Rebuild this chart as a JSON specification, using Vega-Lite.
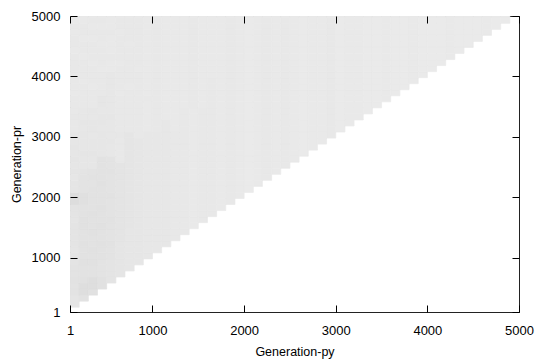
{
"$schema": "https://vega.github.io/schema/vega-lite/v6.json",
"width": 449, "height": 296,
"autosize": {"type": "none"},
"padding": {"left": 70, "top": 16, "right": 17, "bottom": 52},
"background": "white",
"config": {"view": {"stroke": "#222222", "strokeWidth": 1}, "font": "Liberation Sans"},
"data": {"values": [
{"c":1,"r":2,"v":229},{"c":1,"r":3,"v":229},{"c":1,"r":4,"v":227},{"c":1,"r":5,"v":227},{"c":1,"r":6,"v":226},{"c":1,"r":7,"v":227},{"c":1,"r":8,"v":227},{"c":1,"r":9,"v":228},{"c":1,"r":10,"v":228},{"c":1,"r":11,"v":229},{"c":1,"r":12,"v":228},{"c":1,"r":13,"v":228},{"c":1,"r":14,"v":228},{"c":1,"r":15,"v":228},{"c":1,"r":16,"v":229},{"c":1,"r":17,"v":228},{"c":1,"r":18,"v":227},{"c":1,"r":19,"v":221},{"c":1,"r":20,"v":221},{"c":1,"r":21,"v":229},{"c":1,"r":22,"v":229},{"c":1,"r":23,"v":230},{"c":1,"r":24,"v":229},{"c":1,"r":25,"v":230},{"c":1,"r":26,"v":229},{"c":1,"r":27,"v":230},{"c":1,"r":28,"v":229},{"c":1,"r":29,"v":230},{"c":1,"r":30,"v":230},{"c":1,"r":31,"v":232},{"c":1,"r":32,"v":232},{"c":1,"r":33,"v":231},{"c":1,"r":34,"v":232},{"c":1,"r":35,"v":232},{"c":1,"r":36,"v":232},{"c":1,"r":37,"v":233},{"c":1,"r":38,"v":232},{"c":1,"r":39,"v":232},{"c":1,"r":40,"v":233},{"c":1,"r":41,"v":232},{"c":1,"r":42,"v":232},{"c":1,"r":43,"v":232},{"c":1,"r":44,"v":233},{"c":1,"r":45,"v":232},{"c":1,"r":46,"v":232},{"c":1,"r":47,"v":233},{"c":1,"r":48,"v":232},{"c":1,"r":49,"v":233},{"c":1,"r":50,"v":233},
{"c":2,"r":3,"v":226},{"c":2,"r":4,"v":222},{"c":2,"r":5,"v":222},{"c":2,"r":6,"v":225},{"c":2,"r":7,"v":226},{"c":2,"r":8,"v":226},{"c":2,"r":9,"v":225},{"c":2,"r":10,"v":226},{"c":2,"r":11,"v":226},{"c":2,"r":12,"v":225},{"c":2,"r":13,"v":226},{"c":2,"r":14,"v":226},{"c":2,"r":15,"v":225},{"c":2,"r":16,"v":225},{"c":2,"r":17,"v":226},{"c":2,"r":18,"v":226},{"c":2,"r":19,"v":224},{"c":2,"r":20,"v":224},{"c":2,"r":21,"v":227},{"c":2,"r":22,"v":227},{"c":2,"r":23,"v":227},{"c":2,"r":24,"v":228},{"c":2,"r":25,"v":230},{"c":2,"r":26,"v":230},{"c":2,"r":27,"v":229},{"c":2,"r":28,"v":230},{"c":2,"r":29,"v":230},{"c":2,"r":30,"v":230},{"c":2,"r":31,"v":231},{"c":2,"r":32,"v":230},{"c":2,"r":33,"v":231},{"c":2,"r":34,"v":231},{"c":2,"r":35,"v":232},{"c":2,"r":36,"v":232},{"c":2,"r":37,"v":232},{"c":2,"r":38,"v":232},{"c":2,"r":39,"v":233},{"c":2,"r":40,"v":232},{"c":2,"r":41,"v":232},{"c":2,"r":42,"v":232},{"c":2,"r":43,"v":233},{"c":2,"r":44,"v":232},{"c":2,"r":45,"v":232},{"c":2,"r":46,"v":233},{"c":2,"r":47,"v":232},{"c":2,"r":48,"v":232},{"c":2,"r":49,"v":233},{"c":2,"r":50,"v":233},
{"c":3,"r":4,"v":225},{"c":3,"r":5,"v":222},{"c":3,"r":6,"v":222},{"c":3,"r":7,"v":226},{"c":3,"r":8,"v":226},{"c":3,"r":9,"v":225},{"c":3,"r":10,"v":226},{"c":3,"r":11,"v":225},{"c":3,"r":12,"v":226},{"c":3,"r":13,"v":226},{"c":3,"r":14,"v":225},{"c":3,"r":15,"v":226},{"c":3,"r":16,"v":226},{"c":3,"r":17,"v":225},{"c":3,"r":18,"v":226},{"c":3,"r":19,"v":226},{"c":3,"r":20,"v":226},{"c":3,"r":21,"v":226},{"c":3,"r":22,"v":227},{"c":3,"r":23,"v":226},{"c":3,"r":24,"v":227},{"c":3,"r":25,"v":230},{"c":3,"r":26,"v":230},{"c":3,"r":27,"v":229},{"c":3,"r":28,"v":230},{"c":3,"r":29,"v":230},{"c":3,"r":30,"v":231},{"c":3,"r":31,"v":230},{"c":3,"r":32,"v":230},{"c":3,"r":33,"v":231},{"c":3,"r":34,"v":230},{"c":3,"r":35,"v":232},{"c":3,"r":36,"v":232},{"c":3,"r":37,"v":232},{"c":3,"r":38,"v":233},{"c":3,"r":39,"v":232},{"c":3,"r":40,"v":232},{"c":3,"r":41,"v":232},{"c":3,"r":42,"v":233},{"c":3,"r":43,"v":232},{"c":3,"r":44,"v":232},{"c":3,"r":45,"v":232},{"c":3,"r":46,"v":233},{"c":3,"r":47,"v":232},{"c":3,"r":48,"v":233},{"c":3,"r":49,"v":232},{"c":3,"r":50,"v":233},
{"c":4,"r":5,"v":225},{"c":4,"r":6,"v":225},{"c":4,"r":7,"v":227},{"c":4,"r":8,"v":227},{"c":4,"r":9,"v":227},{"c":4,"r":10,"v":226},{"c":4,"r":11,"v":226},{"c":4,"r":12,"v":225},{"c":4,"r":13,"v":226},{"c":4,"r":14,"v":226},{"c":4,"r":15,"v":225},{"c":4,"r":16,"v":226},{"c":4,"r":17,"v":226},{"c":4,"r":18,"v":225},{"c":4,"r":19,"v":226},{"c":4,"r":20,"v":226},{"c":4,"r":21,"v":226},{"c":4,"r":22,"v":225},{"c":4,"r":23,"v":226},{"c":4,"r":24,"v":226},{"c":4,"r":25,"v":226},{"c":4,"r":26,"v":226},{"c":4,"r":27,"v":230},{"c":4,"r":28,"v":230},{"c":4,"r":29,"v":230},{"c":4,"r":30,"v":230},{"c":4,"r":31,"v":231},{"c":4,"r":32,"v":230},{"c":4,"r":33,"v":230},{"c":4,"r":34,"v":231},{"c":4,"r":35,"v":230},{"c":4,"r":36,"v":230},{"c":4,"r":37,"v":232},{"c":4,"r":38,"v":232},{"c":4,"r":39,"v":232},{"c":4,"r":40,"v":232},{"c":4,"r":41,"v":233},{"c":4,"r":42,"v":232},{"c":4,"r":43,"v":232},{"c":4,"r":44,"v":232},{"c":4,"r":45,"v":233},{"c":4,"r":46,"v":232},{"c":4,"r":47,"v":232},{"c":4,"r":48,"v":233},{"c":4,"r":49,"v":232},{"c":4,"r":50,"v":232},
{"c":5,"r":6,"v":228},{"c":5,"r":7,"v":228},{"c":5,"r":8,"v":228},{"c":5,"r":9,"v":228},{"c":5,"r":10,"v":227},{"c":5,"r":11,"v":227},{"c":5,"r":12,"v":226},{"c":5,"r":13,"v":227},{"c":5,"r":14,"v":227},{"c":5,"r":15,"v":227},{"c":5,"r":16,"v":226},{"c":5,"r":17,"v":227},{"c":5,"r":18,"v":227},{"c":5,"r":19,"v":227},{"c":5,"r":20,"v":226},{"c":5,"r":21,"v":227},{"c":5,"r":22,"v":227},{"c":5,"r":23,"v":227},{"c":5,"r":24,"v":226},{"c":5,"r":25,"v":227},{"c":5,"r":26,"v":227},{"c":5,"r":27,"v":231},{"c":5,"r":28,"v":231},{"c":5,"r":29,"v":230},{"c":5,"r":30,"v":231},{"c":5,"r":31,"v":231},{"c":5,"r":32,"v":231},{"c":5,"r":33,"v":230},{"c":5,"r":34,"v":231},{"c":5,"r":35,"v":231},{"c":5,"r":36,"v":231},{"c":5,"r":37,"v":231},{"c":5,"r":38,"v":231},{"c":5,"r":39,"v":231},{"c":5,"r":40,"v":231},{"c":5,"r":41,"v":233},{"c":5,"r":42,"v":233},{"c":5,"r":43,"v":232},{"c":5,"r":44,"v":233},{"c":5,"r":45,"v":233},{"c":5,"r":46,"v":233},{"c":5,"r":47,"v":232},{"c":5,"r":48,"v":233},{"c":5,"r":49,"v":233},{"c":5,"r":50,"v":233},
{"c":6,"r":7,"v":229},{"c":6,"r":8,"v":229},{"c":6,"r":9,"v":229},{"c":6,"r":10,"v":229},{"c":6,"r":11,"v":229},{"c":6,"r":12,"v":229},{"c":6,"r":13,"v":228},{"c":6,"r":14,"v":228},{"c":6,"r":15,"v":228},{"c":6,"r":16,"v":228},{"c":6,"r":17,"v":228},{"c":6,"r":18,"v":228},{"c":6,"r":19,"v":228},{"c":6,"r":20,"v":228},{"c":6,"r":21,"v":228},{"c":6,"r":22,"v":228},{"c":6,"r":23,"v":228},{"c":6,"r":24,"v":228},{"c":6,"r":25,"v":228},{"c":6,"r":26,"v":232},{"c":6,"r":27,"v":232},{"c":6,"r":28,"v":232},{"c":6,"r":29,"v":232},{"c":6,"r":30,"v":231},{"c":6,"r":31,"v":232},{"c":6,"r":32,"v":232},{"c":6,"r":33,"v":232},{"c":6,"r":34,"v":232},{"c":6,"r":35,"v":232},{"c":6,"r":36,"v":232},{"c":6,"r":37,"v":233},{"c":6,"r":38,"v":232},{"c":6,"r":39,"v":232},{"c":6,"r":40,"v":232},{"c":6,"r":41,"v":232},{"c":6,"r":42,"v":233},{"c":6,"r":43,"v":232},{"c":6,"r":44,"v":232},{"c":6,"r":45,"v":232},{"c":6,"r":46,"v":232},{"c":6,"r":47,"v":233},{"c":6,"r":48,"v":232},{"c":6,"r":49,"v":232},{"c":6,"r":50,"v":232},
{"c":7,"r":8,"v":230},{"c":7,"r":9,"v":230},{"c":7,"r":10,"v":230},{"c":7,"r":11,"v":230},{"c":7,"r":12,"v":230},{"c":7,"r":13,"v":230},{"c":7,"r":14,"v":230},{"c":7,"r":15,"v":229},{"c":7,"r":16,"v":229},{"c":7,"r":17,"v":229},{"c":7,"r":18,"v":229},{"c":7,"r":19,"v":229},{"c":7,"r":20,"v":229},{"c":7,"r":21,"v":229},{"c":7,"r":22,"v":229},{"c":7,"r":23,"v":229},{"c":7,"r":24,"v":229},{"c":7,"r":25,"v":229},{"c":7,"r":26,"v":229},{"c":7,"r":27,"v":229},{"c":7,"r":28,"v":229},{"c":7,"r":29,"v":229},{"c":7,"r":30,"v":229},{"c":7,"r":31,"v":232},{"c":7,"r":32,"v":232},{"c":7,"r":33,"v":232},{"c":7,"r":34,"v":232},{"c":7,"r":35,"v":232},{"c":7,"r":36,"v":232},{"c":7,"r":37,"v":232},{"c":7,"r":38,"v":233},{"c":7,"r":39,"v":232},{"c":7,"r":40,"v":232},{"c":7,"r":41,"v":232},{"c":7,"r":42,"v":232},{"c":7,"r":43,"v":232},{"c":7,"r":44,"v":232},{"c":7,"r":45,"v":233},{"c":7,"r":46,"v":232},{"c":7,"r":47,"v":232},{"c":7,"r":48,"v":232},{"c":7,"r":49,"v":232},{"c":7,"r":50,"v":232},
{"c":8,"r":9,"v":230},{"c":8,"r":10,"v":230},{"c":8,"r":11,"v":230},{"c":8,"r":12,"v":230},{"c":8,"r":13,"v":230},{"c":8,"r":14,"v":230},{"c":8,"r":15,"v":230},{"c":8,"r":16,"v":230},{"c":8,"r":17,"v":230},{"c":8,"r":18,"v":230},{"c":8,"r":19,"v":230},{"c":8,"r":20,"v":230},{"c":8,"r":21,"v":230},{"c":8,"r":22,"v":230},{"c":8,"r":23,"v":230},{"c":8,"r":24,"v":230},{"c":8,"r":25,"v":230},{"c":8,"r":26,"v":230},{"c":8,"r":27,"v":230},{"c":8,"r":28,"v":230},{"c":8,"r":29,"v":230},{"c":8,"r":30,"v":232},{"c":8,"r":31,"v":232},{"c":8,"r":32,"v":232},{"c":8,"r":33,"v":232},{"c":8,"r":34,"v":232},{"c":8,"r":35,"v":232},{"c":8,"r":36,"v":232},{"c":8,"r":37,"v":232},{"c":8,"r":38,"v":232},{"c":8,"r":39,"v":232},{"c":8,"r":40,"v":232},{"c":8,"r":41,"v":233},{"c":8,"r":42,"v":232},{"c":8,"r":43,"v":232},{"c":8,"r":44,"v":232},{"c":8,"r":45,"v":232},{"c":8,"r":46,"v":232},{"c":8,"r":47,"v":232},{"c":8,"r":48,"v":232},{"c":8,"r":49,"v":232},{"c":8,"r":50,"v":232},
{"c":9,"r":10,"v":231},{"c":9,"r":11,"v":231},{"c":9,"r":12,"v":231},{"c":9,"r":13,"v":231},{"c":9,"r":14,"v":231},{"c":9,"r":15,"v":231},{"c":9,"r":16,"v":231},{"c":9,"r":17,"v":231},{"c":9,"r":18,"v":231},{"c":9,"r":19,"v":231},{"c":9,"r":20,"v":231},{"c":9,"r":21,"v":231},{"c":9,"r":22,"v":231},{"c":9,"r":23,"v":231},{"c":9,"r":24,"v":231},{"c":9,"r":25,"v":231},{"c":9,"r":26,"v":231},{"c":9,"r":27,"v":231},{"c":9,"r":28,"v":231},{"c":9,"r":29,"v":231},{"c":9,"r":30,"v":231},{"c":9,"r":31,"v":233},{"c":9,"r":32,"v":233},{"c":9,"r":33,"v":233},{"c":9,"r":34,"v":233},{"c":9,"r":35,"v":233},{"c":9,"r":36,"v":232},{"c":9,"r":37,"v":233},{"c":9,"r":38,"v":233},{"c":9,"r":39,"v":233},{"c":9,"r":40,"v":233},{"c":9,"r":41,"v":233},{"c":9,"r":42,"v":233},{"c":9,"r":43,"v":233},{"c":9,"r":44,"v":233},{"c":9,"r":45,"v":233},{"c":9,"r":46,"v":233},{"c":9,"r":47,"v":233},{"c":9,"r":48,"v":233},{"c":9,"r":49,"v":233},{"c":9,"r":50,"v":233},
{"c":10,"r":11,"v":231},{"c":10,"r":12,"v":231},{"c":10,"r":13,"v":231},{"c":10,"r":14,"v":231},{"c":10,"r":15,"v":231},{"c":10,"r":16,"v":231},{"c":10,"r":17,"v":231},{"c":10,"r":18,"v":231},{"c":10,"r":19,"v":231},{"c":10,"r":20,"v":231},{"c":10,"r":21,"v":231},{"c":10,"r":22,"v":231},{"c":10,"r":23,"v":231},{"c":10,"r":24,"v":231},{"c":10,"r":25,"v":231},{"c":10,"r":26,"v":231},{"c":10,"r":27,"v":231},{"c":10,"r":28,"v":231},{"c":10,"r":29,"v":231},{"c":10,"r":30,"v":231},{"c":10,"r":31,"v":232},{"c":10,"r":32,"v":232},{"c":10,"r":33,"v":232},{"c":10,"r":34,"v":232},{"c":10,"r":35,"v":232},{"c":10,"r":36,"v":232},{"c":10,"r":37,"v":232},{"c":10,"r":38,"v":232},{"c":10,"r":39,"v":232},{"c":10,"r":40,"v":232},{"c":10,"r":41,"v":232},{"c":10,"r":42,"v":232},{"c":10,"r":43,"v":232},{"c":10,"r":44,"v":232},{"c":10,"r":45,"v":232},{"c":10,"r":46,"v":232},{"c":10,"r":47,"v":232},{"c":10,"r":48,"v":232},{"c":10,"r":49,"v":232},{"c":10,"r":50,"v":232},
{"c":11,"r":12,"v":231},{"c":11,"r":13,"v":231},{"c":11,"r":14,"v":231},{"c":11,"r":15,"v":231},{"c":11,"r":16,"v":231},{"c":11,"r":17,"v":231},{"c":11,"r":18,"v":231},{"c":11,"r":19,"v":231},{"c":11,"r":20,"v":231},{"c":11,"r":21,"v":231},{"c":11,"r":22,"v":231},{"c":11,"r":23,"v":231},{"c":11,"r":24,"v":231},{"c":11,"r":25,"v":231},{"c":11,"r":26,"v":231},{"c":11,"r":27,"v":231},{"c":11,"r":28,"v":231},{"c":11,"r":29,"v":231},{"c":11,"r":30,"v":231},{"c":11,"r":31,"v":231},{"c":11,"r":32,"v":231},{"c":11,"r":33,"v":233},{"c":11,"r":34,"v":233},{"c":11,"r":35,"v":233},{"c":11,"r":36,"v":233},{"c":11,"r":37,"v":233},{"c":11,"r":38,"v":233},{"c":11,"r":39,"v":233},{"c":11,"r":40,"v":233},{"c":11,"r":41,"v":233},{"c":11,"r":42,"v":233},{"c":11,"r":43,"v":233},{"c":11,"r":44,"v":233},{"c":11,"r":45,"v":233},{"c":11,"r":46,"v":233},{"c":11,"r":47,"v":233},{"c":11,"r":48,"v":233},{"c":11,"r":49,"v":233},{"c":11,"r":50,"v":233},
{"c":12,"r":13,"v":232},{"c":12,"r":14,"v":232},{"c":12,"r":15,"v":232},{"c":12,"r":16,"v":232},{"c":12,"r":17,"v":232},{"c":12,"r":18,"v":232},{"c":12,"r":19,"v":232},{"c":12,"r":20,"v":232},{"c":12,"r":21,"v":232},{"c":12,"r":22,"v":232},{"c":12,"r":23,"v":232},{"c":12,"r":24,"v":232},{"c":12,"r":25,"v":232},{"c":12,"r":26,"v":232},{"c":12,"r":27,"v":232},{"c":12,"r":28,"v":232},{"c":12,"r":29,"v":232},{"c":12,"r":30,"v":232},{"c":12,"r":31,"v":233},{"c":12,"r":32,"v":233},{"c":12,"r":33,"v":233},{"c":12,"r":34,"v":233},{"c":12,"r":35,"v":233},{"c":12,"r":36,"v":233},{"c":12,"r":37,"v":233},{"c":12,"r":38,"v":233},{"c":12,"r":39,"v":233},{"c":12,"r":40,"v":233},{"c":12,"r":41,"v":233},{"c":12,"r":42,"v":233},{"c":12,"r":43,"v":233},{"c":12,"r":44,"v":233},{"c":12,"r":45,"v":233},{"c":12,"r":46,"v":233},{"c":12,"r":47,"v":233},{"c":12,"r":48,"v":233},{"c":12,"r":49,"v":233},{"c":12,"r":50,"v":233},
{"c":13,"r":14,"v":232},{"c":13,"r":15,"v":232},{"c":13,"r":16,"v":232},{"c":13,"r":17,"v":232},{"c":13,"r":18,"v":232},{"c":13,"r":19,"v":232},{"c":13,"r":20,"v":232},{"c":13,"r":21,"v":232},{"c":13,"r":22,"v":232},{"c":13,"r":23,"v":232},{"c":13,"r":24,"v":232},{"c":13,"r":25,"v":232},{"c":13,"r":26,"v":232},{"c":13,"r":27,"v":232},{"c":13,"r":28,"v":232},{"c":13,"r":29,"v":232},{"c":13,"r":30,"v":232},{"c":13,"r":31,"v":232},{"c":13,"r":32,"v":232},{"c":13,"r":33,"v":232},{"c":13,"r":34,"v":232},{"c":13,"r":35,"v":233},{"c":13,"r":36,"v":233},{"c":13,"r":37,"v":233},{"c":13,"r":38,"v":233},{"c":13,"r":39,"v":233},{"c":13,"r":40,"v":233},{"c":13,"r":41,"v":233},{"c":13,"r":42,"v":233},{"c":13,"r":43,"v":233},{"c":13,"r":44,"v":233},{"c":13,"r":45,"v":233},{"c":13,"r":46,"v":233},{"c":13,"r":47,"v":233},{"c":13,"r":48,"v":233},{"c":13,"r":49,"v":233},{"c":13,"r":50,"v":233},
{"c":14,"r":15,"v":233},{"c":14,"r":16,"v":233},{"c":14,"r":17,"v":233},{"c":14,"r":18,"v":233},{"c":14,"r":19,"v":233},{"c":14,"r":20,"v":233},{"c":14,"r":21,"v":233},{"c":14,"r":22,"v":233},{"c":14,"r":23,"v":233},{"c":14,"r":24,"v":233},{"c":14,"r":25,"v":233},{"c":14,"r":26,"v":233},{"c":14,"r":27,"v":233},{"c":14,"r":28,"v":233},{"c":14,"r":29,"v":233},{"c":14,"r":30,"v":233},{"c":14,"r":31,"v":233},{"c":14,"r":32,"v":233},{"c":14,"r":33,"v":233},{"c":14,"r":34,"v":233},{"c":14,"r":35,"v":232},{"c":14,"r":36,"v":232},{"c":14,"r":37,"v":232},{"c":14,"r":38,"v":232},{"c":14,"r":39,"v":232},{"c":14,"r":40,"v":232},{"c":14,"r":41,"v":232},{"c":14,"r":42,"v":232},{"c":14,"r":43,"v":232},{"c":14,"r":44,"v":232},{"c":14,"r":45,"v":232},{"c":14,"r":46,"v":232},{"c":14,"r":47,"v":232},{"c":14,"r":48,"v":232},{"c":14,"r":49,"v":232},{"c":14,"r":50,"v":232},
{"c":15,"r":16,"v":232},{"c":15,"r":17,"v":232},{"c":15,"r":18,"v":232},{"c":15,"r":19,"v":232},{"c":15,"r":20,"v":232},{"c":15,"r":21,"v":232},{"c":15,"r":22,"v":232},{"c":15,"r":23,"v":232},{"c":15,"r":24,"v":232},{"c":15,"r":25,"v":232},{"c":15,"r":26,"v":232},{"c":15,"r":27,"v":232},{"c":15,"r":28,"v":232},{"c":15,"r":29,"v":232},{"c":15,"r":30,"v":232},{"c":15,"r":31,"v":232},{"c":15,"r":32,"v":232},{"c":15,"r":33,"v":232},{"c":15,"r":34,"v":232},{"c":15,"r":35,"v":233},{"c":15,"r":36,"v":233},{"c":15,"r":37,"v":233},{"c":15,"r":38,"v":233},{"c":15,"r":39,"v":233},{"c":15,"r":40,"v":233},{"c":15,"r":41,"v":233},{"c":15,"r":42,"v":233},{"c":15,"r":43,"v":233},{"c":15,"r":44,"v":233},{"c":15,"r":45,"v":233},{"c":15,"r":46,"v":233},{"c":15,"r":47,"v":233},{"c":15,"r":48,"v":233},{"c":15,"r":49,"v":233},{"c":15,"r":50,"v":233},
{"c":16,"r":17,"v":232},{"c":16,"r":18,"v":232},{"c":16,"r":19,"v":232},{"c":16,"r":20,"v":232},{"c":16,"r":21,"v":232},{"c":16,"r":22,"v":232},{"c":16,"r":23,"v":232},{"c":16,"r":24,"v":232},{"c":16,"r":25,"v":232},{"c":16,"r":26,"v":232},{"c":16,"r":27,"v":232},{"c":16,"r":28,"v":232},{"c":16,"r":29,"v":232},{"c":16,"r":30,"v":232},{"c":16,"r":31,"v":232},{"c":16,"r":32,"v":232},{"c":16,"r":33,"v":232},{"c":16,"r":34,"v":232},{"c":16,"r":35,"v":232},{"c":16,"r":36,"v":232},{"c":16,"r":37,"v":232},{"c":16,"r":38,"v":232},{"c":16,"r":39,"v":232},{"c":16,"r":40,"v":233},{"c":16,"r":41,"v":233},{"c":16,"r":42,"v":233},{"c":16,"r":43,"v":233},{"c":16,"r":44,"v":233},{"c":16,"r":45,"v":233},{"c":16,"r":46,"v":233},{"c":16,"r":47,"v":233},{"c":16,"r":48,"v":233},{"c":16,"r":49,"v":233},{"c":16,"r":50,"v":233},
{"c":17,"r":18,"v":233},{"c":17,"r":19,"v":233},{"c":17,"r":20,"v":233},{"c":17,"r":21,"v":233},{"c":17,"r":22,"v":233},{"c":17,"r":23,"v":233},{"c":17,"r":24,"v":233},{"c":17,"r":25,"v":233},{"c":17,"r":26,"v":233},{"c":17,"r":27,"v":233},{"c":17,"r":28,"v":233},{"c":17,"r":29,"v":233},{"c":17,"r":30,"v":233},{"c":17,"r":31,"v":233},{"c":17,"r":32,"v":233},{"c":17,"r":33,"v":233},{"c":17,"r":34,"v":233},{"c":17,"r":35,"v":233},{"c":17,"r":36,"v":233},{"c":17,"r":37,"v":233},{"c":17,"r":38,"v":233},{"c":17,"r":39,"v":233},{"c":17,"r":40,"v":233},{"c":17,"r":41,"v":233},{"c":17,"r":42,"v":233},{"c":17,"r":43,"v":233},{"c":17,"r":44,"v":233},{"c":17,"r":45,"v":233},{"c":17,"r":46,"v":233},{"c":17,"r":47,"v":233},{"c":17,"r":48,"v":233},{"c":17,"r":49,"v":233},{"c":17,"r":50,"v":233},
{"c":18,"r":19,"v":232},{"c":18,"r":20,"v":232},{"c":18,"r":21,"v":232},{"c":18,"r":22,"v":232},{"c":18,"r":23,"v":232},{"c":18,"r":24,"v":232},{"c":18,"r":25,"v":232},{"c":18,"r":26,"v":232},{"c":18,"r":27,"v":232},{"c":18,"r":28,"v":232},{"c":18,"r":29,"v":232},{"c":18,"r":30,"v":232},{"c":18,"r":31,"v":232},{"c":18,"r":32,"v":232},{"c":18,"r":33,"v":232},{"c":18,"r":34,"v":232},{"c":18,"r":35,"v":232},{"c":18,"r":36,"v":232},{"c":18,"r":37,"v":232},{"c":18,"r":38,"v":232},{"c":18,"r":39,"v":232},{"c":18,"r":40,"v":232},{"c":18,"r":41,"v":232},{"c":18,"r":42,"v":232},{"c":18,"r":43,"v":232},{"c":18,"r":44,"v":232},{"c":18,"r":45,"v":232},{"c":18,"r":46,"v":232},{"c":18,"r":47,"v":232},{"c":18,"r":48,"v":232},{"c":18,"r":49,"v":232},{"c":18,"r":50,"v":232},
{"c":19,"r":20,"v":233},{"c":19,"r":21,"v":233},{"c":19,"r":22,"v":233},{"c":19,"r":23,"v":233},{"c":19,"r":24,"v":233},{"c":19,"r":25,"v":233},{"c":19,"r":26,"v":233},{"c":19,"r":27,"v":233},{"c":19,"r":28,"v":233},{"c":19,"r":29,"v":233},{"c":19,"r":30,"v":233},{"c":19,"r":31,"v":233},{"c":19,"r":32,"v":233},{"c":19,"r":33,"v":233},{"c":19,"r":34,"v":233},{"c":19,"r":35,"v":233},{"c":19,"r":36,"v":233},{"c":19,"r":37,"v":233},{"c":19,"r":38,"v":233},{"c":19,"r":39,"v":233},{"c":19,"r":40,"v":233},{"c":19,"r":41,"v":233},{"c":19,"r":42,"v":233},{"c":19,"r":43,"v":233},{"c":19,"r":44,"v":233},{"c":19,"r":45,"v":233},{"c":19,"r":46,"v":233},{"c":19,"r":47,"v":233},{"c":19,"r":48,"v":233},{"c":19,"r":49,"v":233},{"c":19,"r":50,"v":233},
{"c":20,"r":21,"v":234},{"c":20,"r":22,"v":234},{"c":20,"r":23,"v":234},{"c":20,"r":24,"v":234},{"c":20,"r":25,"v":234},{"c":20,"r":26,"v":234},{"c":20,"r":27,"v":234},{"c":20,"r":28,"v":234},{"c":20,"r":29,"v":234},{"c":20,"r":30,"v":234},{"c":20,"r":31,"v":234},{"c":20,"r":32,"v":234},{"c":20,"r":33,"v":234},{"c":20,"r":34,"v":234},{"c":20,"r":35,"v":234},{"c":20,"r":36,"v":234},{"c":20,"r":37,"v":234},{"c":20,"r":38,"v":234},{"c":20,"r":39,"v":234},{"c":20,"r":40,"v":234},{"c":20,"r":41,"v":234},{"c":20,"r":42,"v":234},{"c":20,"r":43,"v":234},{"c":20,"r":44,"v":234},{"c":20,"r":45,"v":234},{"c":20,"r":46,"v":234},{"c":20,"r":47,"v":234},{"c":20,"r":48,"v":234},{"c":20,"r":49,"v":234},{"c":20,"r":50,"v":234},
{"c":21,"r":22,"v":233},{"c":21,"r":23,"v":233},{"c":21,"r":24,"v":233},{"c":21,"r":25,"v":233},{"c":21,"r":26,"v":233},{"c":21,"r":27,"v":233},{"c":21,"r":28,"v":233},{"c":21,"r":29,"v":233},{"c":21,"r":30,"v":233},{"c":21,"r":31,"v":233},{"c":21,"r":32,"v":233},{"c":21,"r":33,"v":233},{"c":21,"r":34,"v":233},{"c":21,"r":35,"v":233},{"c":21,"r":36,"v":233},{"c":21,"r":37,"v":233},{"c":21,"r":38,"v":233},{"c":21,"r":39,"v":233},{"c":21,"r":40,"v":233},{"c":21,"r":41,"v":233},{"c":21,"r":42,"v":233},{"c":21,"r":43,"v":233},{"c":21,"r":44,"v":233},{"c":21,"r":45,"v":233},{"c":21,"r":46,"v":233},{"c":21,"r":47,"v":233},{"c":21,"r":48,"v":233},{"c":21,"r":49,"v":233},{"c":21,"r":50,"v":233},
{"c":22,"r":23,"v":232},{"c":22,"r":24,"v":232},{"c":22,"r":25,"v":232},{"c":22,"r":26,"v":232},{"c":22,"r":27,"v":232},{"c":22,"r":28,"v":232},{"c":22,"r":29,"v":232},{"c":22,"r":30,"v":232},{"c":22,"r":31,"v":232},{"c":22,"r":32,"v":232},{"c":22,"r":33,"v":232},{"c":22,"r":34,"v":232},{"c":22,"r":35,"v":232},{"c":22,"r":36,"v":232},{"c":22,"r":37,"v":232},{"c":22,"r":38,"v":232},{"c":22,"r":39,"v":232},{"c":22,"r":40,"v":232},{"c":22,"r":41,"v":232},{"c":22,"r":42,"v":232},{"c":22,"r":43,"v":232},{"c":22,"r":44,"v":232},{"c":22,"r":45,"v":232},{"c":22,"r":46,"v":232},{"c":22,"r":47,"v":232},{"c":22,"r":48,"v":232},{"c":22,"r":49,"v":232},{"c":22,"r":50,"v":232},
{"c":23,"r":24,"v":233},{"c":23,"r":25,"v":233},{"c":23,"r":26,"v":233},{"c":23,"r":27,"v":233},{"c":23,"r":28,"v":233},{"c":23,"r":29,"v":233},{"c":23,"r":30,"v":233},{"c":23,"r":31,"v":233},{"c":23,"r":32,"v":233},{"c":23,"r":33,"v":233},{"c":23,"r":34,"v":233},{"c":23,"r":35,"v":233},{"c":23,"r":36,"v":233},{"c":23,"r":37,"v":233},{"c":23,"r":38,"v":233},{"c":23,"r":39,"v":233},{"c":23,"r":40,"v":233},{"c":23,"r":41,"v":233},{"c":23,"r":42,"v":233},{"c":23,"r":43,"v":233},{"c":23,"r":44,"v":233},{"c":23,"r":45,"v":233},{"c":23,"r":46,"v":233},{"c":23,"r":47,"v":233},{"c":23,"r":48,"v":233},{"c":23,"r":49,"v":233},{"c":23,"r":50,"v":233},
{"c":24,"r":25,"v":232},{"c":24,"r":26,"v":232},{"c":24,"r":27,"v":232},{"c":24,"r":28,"v":232},{"c":24,"r":29,"v":232},{"c":24,"r":30,"v":232},{"c":24,"r":31,"v":232},{"c":24,"r":32,"v":232},{"c":24,"r":33,"v":232},{"c":24,"r":34,"v":232},{"c":24,"r":35,"v":232},{"c":24,"r":36,"v":232},{"c":24,"r":37,"v":232},{"c":24,"r":38,"v":232},{"c":24,"r":39,"v":232},{"c":24,"r":40,"v":232},{"c":24,"r":41,"v":232},{"c":24,"r":42,"v":232},{"c":24,"r":43,"v":232},{"c":24,"r":44,"v":232},{"c":24,"r":45,"v":232},{"c":24,"r":46,"v":232},{"c":24,"r":47,"v":232},{"c":24,"r":48,"v":232},{"c":24,"r":49,"v":232},{"c":24,"r":50,"v":232},
{"c":25,"r":26,"v":233},{"c":25,"r":27,"v":233},{"c":25,"r":28,"v":233},{"c":25,"r":29,"v":233},{"c":25,"r":30,"v":233},{"c":25,"r":31,"v":233},{"c":25,"r":32,"v":233},{"c":25,"r":33,"v":233},{"c":25,"r":34,"v":233},{"c":25,"r":35,"v":233},{"c":25,"r":36,"v":233},{"c":25,"r":37,"v":233},{"c":25,"r":38,"v":233},{"c":25,"r":39,"v":233},{"c":25,"r":40,"v":233},{"c":25,"r":41,"v":233},{"c":25,"r":42,"v":233},{"c":25,"r":43,"v":233},{"c":25,"r":44,"v":233},{"c":25,"r":45,"v":233},{"c":25,"r":46,"v":233},{"c":25,"r":47,"v":233},{"c":25,"r":48,"v":233},{"c":25,"r":49,"v":233},{"c":25,"r":50,"v":233},
{"c":26,"r":27,"v":234},{"c":26,"r":28,"v":234},{"c":26,"r":29,"v":234},{"c":26,"r":30,"v":234},{"c":26,"r":31,"v":234},{"c":26,"r":32,"v":234},{"c":26,"r":33,"v":234},{"c":26,"r":34,"v":234},{"c":26,"r":35,"v":234},{"c":26,"r":36,"v":234},{"c":26,"r":37,"v":234},{"c":26,"r":38,"v":234},{"c":26,"r":39,"v":234},{"c":26,"r":40,"v":234},{"c":26,"r":41,"v":234},{"c":26,"r":42,"v":234},{"c":26,"r":43,"v":234},{"c":26,"r":44,"v":234},{"c":26,"r":45,"v":234},{"c":26,"r":46,"v":234},{"c":26,"r":47,"v":234},{"c":26,"r":48,"v":234},{"c":26,"r":49,"v":234},{"c":26,"r":50,"v":234},
{"c":27,"r":28,"v":233},{"c":27,"r":29,"v":233},{"c":27,"r":30,"v":233},{"c":27,"r":31,"v":233},{"c":27,"r":32,"v":233},{"c":27,"r":33,"v":233},{"c":27,"r":34,"v":233},{"c":27,"r":35,"v":233},{"c":27,"r":36,"v":233},{"c":27,"r":37,"v":233},{"c":27,"r":38,"v":233},{"c":27,"r":39,"v":233},{"c":27,"r":40,"v":233},{"c":27,"r":41,"v":233},{"c":27,"r":42,"v":233},{"c":27,"r":43,"v":233},{"c":27,"r":44,"v":233},{"c":27,"r":45,"v":233},{"c":27,"r":46,"v":233},{"c":27,"r":47,"v":233},{"c":27,"r":48,"v":233},{"c":27,"r":49,"v":233},{"c":27,"r":50,"v":233},
{"c":28,"r":29,"v":233},{"c":28,"r":30,"v":233},{"c":28,"r":31,"v":233},{"c":28,"r":32,"v":233},{"c":28,"r":33,"v":233},{"c":28,"r":34,"v":233},{"c":28,"r":35,"v":233},{"c":28,"r":36,"v":233},{"c":28,"r":37,"v":233},{"c":28,"r":38,"v":233},{"c":28,"r":39,"v":233},{"c":28,"r":40,"v":233},{"c":28,"r":41,"v":233},{"c":28,"r":42,"v":233},{"c":28,"r":43,"v":233},{"c":28,"r":44,"v":233},{"c":28,"r":45,"v":233},{"c":28,"r":46,"v":233},{"c":28,"r":47,"v":233},{"c":28,"r":48,"v":233},{"c":28,"r":49,"v":233},{"c":28,"r":50,"v":233},
{"c":29,"r":30,"v":232},{"c":29,"r":31,"v":232},{"c":29,"r":32,"v":232},{"c":29,"r":33,"v":232},{"c":29,"r":34,"v":232},{"c":29,"r":35,"v":232},{"c":29,"r":36,"v":232},{"c":29,"r":37,"v":232},{"c":29,"r":38,"v":232},{"c":29,"r":39,"v":232},{"c":29,"r":40,"v":232},{"c":29,"r":41,"v":232},{"c":29,"r":42,"v":232},{"c":29,"r":43,"v":232},{"c":29,"r":44,"v":232},{"c":29,"r":45,"v":232},{"c":29,"r":46,"v":232},{"c":29,"r":47,"v":232},{"c":29,"r":48,"v":232},{"c":29,"r":49,"v":232},{"c":29,"r":50,"v":232},
{"c":30,"r":31,"v":234},{"c":30,"r":32,"v":234},{"c":30,"r":33,"v":234},{"c":30,"r":34,"v":234},{"c":30,"r":35,"v":234},{"c":30,"r":36,"v":234},{"c":30,"r":37,"v":234},{"c":30,"r":38,"v":234},{"c":30,"r":39,"v":234},{"c":30,"r":40,"v":234},{"c":30,"r":41,"v":234},{"c":30,"r":42,"v":234},{"c":30,"r":43,"v":234},{"c":30,"r":44,"v":234},{"c":30,"r":45,"v":234},{"c":30,"r":46,"v":234},{"c":30,"r":47,"v":234},{"c":30,"r":48,"v":234},{"c":30,"r":49,"v":234},{"c":30,"r":50,"v":234},
{"c":31,"r":32,"v":233},{"c":31,"r":33,"v":233},{"c":31,"r":34,"v":233},{"c":31,"r":35,"v":233},{"c":31,"r":36,"v":233},{"c":31,"r":37,"v":233},{"c":31,"r":38,"v":233},{"c":31,"r":39,"v":233},{"c":31,"r":40,"v":233},{"c":31,"r":41,"v":233},{"c":31,"r":42,"v":233},{"c":31,"r":43,"v":233},{"c":31,"r":44,"v":233},{"c":31,"r":45,"v":233},{"c":31,"r":46,"v":233},{"c":31,"r":47,"v":233},{"c":31,"r":48,"v":233},{"c":31,"r":49,"v":233},{"c":31,"r":50,"v":233},
{"c":32,"r":33,"v":233},{"c":32,"r":34,"v":233},{"c":32,"r":35,"v":233},{"c":32,"r":36,"v":233},{"c":32,"r":37,"v":233},{"c":32,"r":38,"v":233},{"c":32,"r":39,"v":233},{"c":32,"r":40,"v":233},{"c":32,"r":41,"v":233},{"c":32,"r":42,"v":233},{"c":32,"r":43,"v":233},{"c":32,"r":44,"v":233},{"c":32,"r":45,"v":233},{"c":32,"r":46,"v":233},{"c":32,"r":47,"v":233},{"c":32,"r":48,"v":233},{"c":32,"r":49,"v":233},{"c":32,"r":50,"v":233},
{"c":33,"r":34,"v":234},{"c":33,"r":35,"v":234},{"c":33,"r":36,"v":234},{"c":33,"r":37,"v":234},{"c":33,"r":38,"v":234},{"c":33,"r":39,"v":234},{"c":33,"r":40,"v":234},{"c":33,"r":41,"v":234},{"c":33,"r":42,"v":234},{"c":33,"r":43,"v":234},{"c":33,"r":44,"v":234},{"c":33,"r":45,"v":234},{"c":33,"r":46,"v":234},{"c":33,"r":47,"v":234},{"c":33,"r":48,"v":234},{"c":33,"r":49,"v":234},{"c":33,"r":50,"v":234},
{"c":34,"r":35,"v":234},{"c":34,"r":36,"v":234},{"c":34,"r":37,"v":234},{"c":34,"r":38,"v":234},{"c":34,"r":39,"v":234},{"c":34,"r":40,"v":234},{"c":34,"r":41,"v":234},{"c":34,"r":42,"v":234},{"c":34,"r":43,"v":234},{"c":34,"r":44,"v":234},{"c":34,"r":45,"v":234},{"c":34,"r":46,"v":234},{"c":34,"r":47,"v":234},{"c":34,"r":48,"v":234},{"c":34,"r":49,"v":234},{"c":34,"r":50,"v":234},
{"c":35,"r":36,"v":233},{"c":35,"r":37,"v":233},{"c":35,"r":38,"v":233},{"c":35,"r":39,"v":233},{"c":35,"r":40,"v":233},{"c":35,"r":41,"v":233},{"c":35,"r":42,"v":233},{"c":35,"r":43,"v":233},{"c":35,"r":44,"v":233},{"c":35,"r":45,"v":233},{"c":35,"r":46,"v":233},{"c":35,"r":47,"v":233},{"c":35,"r":48,"v":233},{"c":35,"r":49,"v":233},{"c":35,"r":50,"v":233},
{"c":36,"r":37,"v":234},{"c":36,"r":38,"v":234},{"c":36,"r":39,"v":234},{"c":36,"r":40,"v":234},{"c":36,"r":41,"v":234},{"c":36,"r":42,"v":234},{"c":36,"r":43,"v":234},{"c":36,"r":44,"v":234},{"c":36,"r":45,"v":234},{"c":36,"r":46,"v":234},{"c":36,"r":47,"v":234},{"c":36,"r":48,"v":234},{"c":36,"r":49,"v":234},{"c":36,"r":50,"v":234},
{"c":37,"r":38,"v":234},{"c":37,"r":39,"v":234},{"c":37,"r":40,"v":234},{"c":37,"r":41,"v":234},{"c":37,"r":42,"v":234},{"c":37,"r":43,"v":234},{"c":37,"r":44,"v":234},{"c":37,"r":45,"v":234},{"c":37,"r":46,"v":234},{"c":37,"r":47,"v":234},{"c":37,"r":48,"v":234},{"c":37,"r":49,"v":234},{"c":37,"r":50,"v":234},
{"c":38,"r":39,"v":233},{"c":38,"r":40,"v":233},{"c":38,"r":41,"v":233},{"c":38,"r":42,"v":233},{"c":38,"r":43,"v":233},{"c":38,"r":44,"v":233},{"c":38,"r":45,"v":233},{"c":38,"r":46,"v":233},{"c":38,"r":47,"v":233},{"c":38,"r":48,"v":233},{"c":38,"r":49,"v":233},{"c":38,"r":50,"v":233},
{"c":39,"r":40,"v":234},{"c":39,"r":41,"v":234},{"c":39,"r":42,"v":234},{"c":39,"r":43,"v":234},{"c":39,"r":44,"v":234},{"c":39,"r":45,"v":234},{"c":39,"r":46,"v":234},{"c":39,"r":47,"v":234},{"c":39,"r":48,"v":234},{"c":39,"r":49,"v":234},{"c":39,"r":50,"v":234},
{"c":40,"r":41,"v":234},{"c":40,"r":42,"v":234},{"c":40,"r":43,"v":234},{"c":40,"r":44,"v":234},{"c":40,"r":45,"v":234},{"c":40,"r":46,"v":234},{"c":40,"r":47,"v":234},{"c":40,"r":48,"v":234},{"c":40,"r":49,"v":234},{"c":40,"r":50,"v":234},
{"c":41,"r":42,"v":234},{"c":41,"r":43,"v":234},{"c":41,"r":44,"v":234},{"c":41,"r":45,"v":234},{"c":41,"r":46,"v":234},{"c":41,"r":47,"v":234},{"c":41,"r":48,"v":234},{"c":41,"r":49,"v":234},{"c":41,"r":50,"v":234},
{"c":42,"r":43,"v":233},{"c":42,"r":44,"v":233},{"c":42,"r":45,"v":233},{"c":42,"r":46,"v":233},{"c":42,"r":47,"v":233},{"c":42,"r":48,"v":233},{"c":42,"r":49,"v":233},{"c":42,"r":50,"v":233},
{"c":43,"r":44,"v":234},{"c":43,"r":45,"v":234},{"c":43,"r":46,"v":234},{"c":43,"r":47,"v":234},{"c":43,"r":48,"v":234},{"c":43,"r":49,"v":234},{"c":43,"r":50,"v":234},
{"c":44,"r":45,"v":234},{"c":44,"r":46,"v":234},{"c":44,"r":47,"v":234},{"c":44,"r":48,"v":234},{"c":44,"r":49,"v":234},{"c":44,"r":50,"v":234},
{"c":45,"r":46,"v":234},{"c":45,"r":47,"v":234},{"c":45,"r":48,"v":234},{"c":45,"r":49,"v":234},{"c":45,"r":50,"v":234},
{"c":46,"r":47,"v":233},{"c":46,"r":48,"v":233},{"c":46,"r":49,"v":233},{"c":46,"r":50,"v":233},
{"c":47,"r":48,"v":234},{"c":47,"r":49,"v":234},{"c":47,"r":50,"v":234},
{"c":48,"r":49,"v":234},{"c":48,"r":50,"v":234}
]},
"layer": [
{
"mark": {"type": "rect", "width": 9.2, "height": 6.1, "xOffset": 4.58, "yOffset": -1.8, "clip": true, "strokeWidth": 0.7},
"encoding": {
"x": {"field": "c", "type": "quantitative", "scale": {"domain": [1, 50], "nice": false, "zero": false},
"axis": {"orient": "bottom", "values": [1, 10, 20, 30, 40, 50], "labelExpr": "datum.value == 1 ? '1' : format(datum.value * 100, 'd')", "labelFlush": false, "labelOverlap": false, "title": "Generation-py", "grid": false, "domain": false, "tickSize": -7, "tickColor": "#000000", "labelPadding": 19, "labelFontSize": 13, "labelColor": "#000000", "labelFont": "Liberation Sans", "titleFont": "Liberation Sans", "titleFontSize": 12.5, "titleFontWeight": "normal", "titleColor": "#000000", "titlePadding": 8, "zindex": 1}},
"y": {"field": "r", "type": "quantitative", "scale": {"domain": [1, 50], "nice": false, "zero": false},
"axis": {"orient": "left", "values": [1, 10, 20, 30, 40, 50], "labelExpr": "datum.value == 1 ? '1' : format(datum.value * 100, 'd')", "labelFlush": false, "labelOverlap": false, "title": "Generation-pr", "grid": false, "domain": false, "tickSize": -7, "tickColor": "#000000", "labelPadding": 17, "labelFontSize": 13, "labelColor": "#000000", "labelFont": "Liberation Sans", "titleFont": "Liberation Sans", "titleFontSize": 12.5, "titleFontWeight": "normal", "titleColor": "#000000", "titlePadding": 8, "zindex": 1}},
"color": {"field": "v", "type": "quantitative", "scale": {"domain": [0, 255], "range": ["#000000", "#ffffff"], "interpolate": "rgb"}, "legend": null},
"stroke": {"field": "v", "type": "quantitative", "scale": {"domain": [0, 255], "range": ["#000000", "#ffffff"], "interpolate": "rgb"}, "legend": null}
}
},
{
"mark": {"type": "point", "opacity": 0},
"encoding": {
"x": {"field": "c", "type": "quantitative", "scale": {"domain": [1, 50], "nice": false, "zero": false},
"axis": {"orient": "top", "values": [1, 10, 20, 30, 40, 50], "labels": false, "title": null, "grid": false, "domain": false, "tickSize": -7, "tickColor": "#000000", "zindex": 1}},
"y": {"field": "r", "type": "quantitative", "scale": {"domain": [1, 50], "nice": false, "zero": false},
"axis": {"orient": "right", "values": [1, 10, 20, 30, 40, 50], "labels": false, "title": null, "grid": false, "domain": false, "tickSize": -7, "tickColor": "#000000", "zindex": 1}}
}
}
],
"resolve": {"axis": {"x": "independent", "y": "independent"}}
}
